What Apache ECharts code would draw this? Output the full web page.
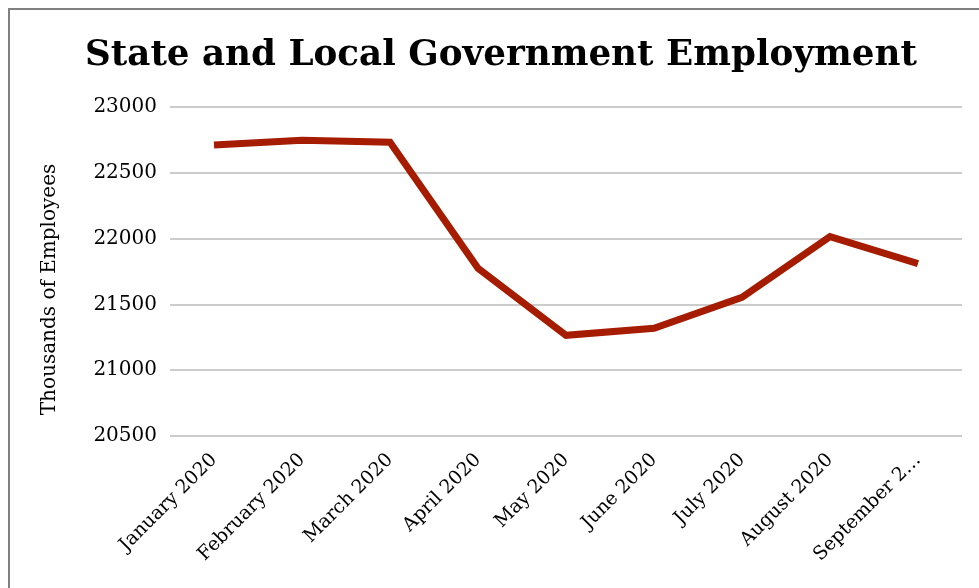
<!DOCTYPE html>
<html>
<head>
<meta charset="utf-8">
<script src="https://cdn.jsdelivr.net/npm/echarts@6/dist/echarts.min.js"></script>
<style>
  html, body { margin: 0; padding: 0; background: #ffffff; }
  #chart { width: 979px; height: 588px; }
</style>
</head>
<body>
<div id="chart"></div>
<script>
// Monthly state and local government employment, thousands of employees
const months = [
  'January 2020', 'February 2020', 'March 2020', 'April 2020', 'May 2020',
  'June 2020', 'July 2020', 'August 2020', 'September 2020'
];
const monthLabels = [
  'January 2020', 'February 2020', 'March 2020', 'April 2020', 'May 2020',
  'June 2020', 'July 2020', 'August 2020', 'September 2…'
];
const employment = [22712, 22748, 22733, 21775, 21265, 21318, 21554, 22015, 21810];
const yTicks = [20500, 21000, 21500, 22000, 22500, 23000];

const serif = '"DejaVu Serif", "Liberation Serif", serif';
const chart = echarts.init(document.getElementById('chart'), null, { renderer: 'canvas' });

chart.setOption({
  backgroundColor: '#ffffff',
  animation: false,
  title: {
    text: 'State and Local Government Employment',
    left: 80,
    top: 33,
    textStyle: { fontFamily: serif, fontWeight: 'bold', fontSize: 35.7, color: '#000000' }
  },
  graphic: [
    // Frame around the chart, running off the right and bottom edges
    { type: 'line', shape: { x1: 8, y1: 9, x2: 979, y2: 9 }, style: { stroke: '#808080', lineWidth: 2 } },
    { type: 'line', shape: { x1: 9, y1: 8, x2: 9, y2: 588 }, style: { stroke: '#808080', lineWidth: 2 } }
  ],
  grid: { left: 170, right: 17, top: 107, bottom: 152, containLabel: false },
  xAxis: {
    type: 'category',
    data: months,
    boundaryGap: true,
    axisLine: { show: false },
    axisTick: { show: false },
    axisLabel: {
      rotate: 45,
      interval: 0,
      margin: 21,
      fontFamily: serif,
      fontSize: 19,
      color: '#000000',
      formatter: (v, i) => monthLabels[i]
    }
  },
  yAxis: {
    type: 'value',
    min: yTicks[0],
    max: yTicks[yTicks.length - 1],
    interval: 500,
    name: 'Thousands of Employees',
    nameLocation: 'middle',
    nameGap: 110,
    nameTextStyle: { fontFamily: serif, fontSize: 20, color: '#000000', padding: [0, 36, 0, 0] },
    axisLine: { show: false },
    axisTick: { show: false },
    axisLabel: {
      margin: 13,
      fontFamily: serif,
      fontSize: 20,
      color: '#000000',
      formatter: (v) => String(v)
    },
    splitLine: { lineStyle: { color: '#cccccc', width: 2 } }
  },
  series: [{
    type: 'line',
    data: employment,
    symbol: 'none',
    lineStyle: { color: '#a61c00', width: 7, join: 'miter' },
    itemStyle: { color: '#a61c00' }
  }]
});
</script>
</body>
</html>
